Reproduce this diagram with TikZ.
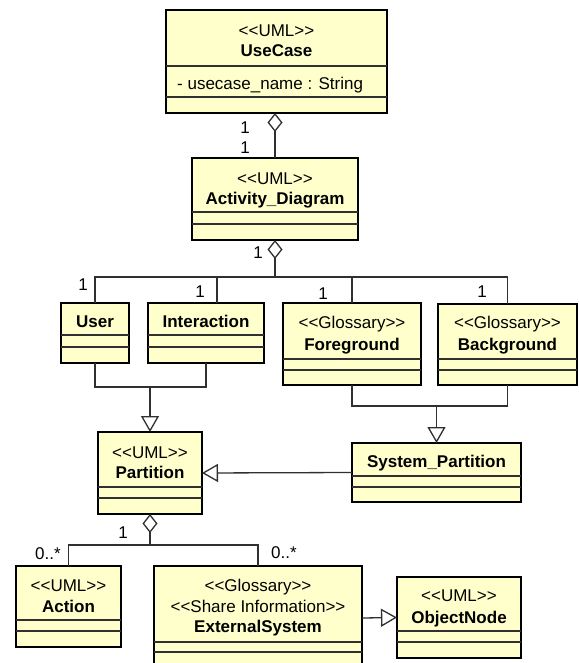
\documentclass[tikz,border=0pt]{standalone}
\usepackage{fontspec}
\setmainfont{Liberation Sans}
\usetikzlibrary{arrows.meta}

\definecolor{umlfill}{HTML}{FFFFCC}
\definecolor{umlline}{HTML}{303030}

% stereotype guillemets, kept as plain angle brackets
\newcommand\stereo[1]{<\kern0pt<#1>\kern0pt>}
% compartment separator #2 pt below the top edge of class #1
\newcommand\compsep[2]{\draw[sepline] ([yshift=-#2pt]#1.north west) -- ([yshift=-#2pt]#1.north east);}

\tikzset{
  classbox/.style={draw=black, line width=2.6pt, fill=umlfill, anchor=north west,
                   inner sep=0pt, outer sep=0pt},
  sepline/.style={draw=umlline, line width=1.4pt},
  conn/.style={draw=umlline, line width=1.3pt},
  lbl/.style={inner sep=0pt, font=\fontsize{17}{20}\selectfont, text height=12.2pt, text depth=0pt},
  ttl/.style={lbl, font=\fontsize{17}{20}\selectfont\bfseries},
  aggr/.style={conn, -{Diamond[open, length=19pt, width=15pt]}},
  gen/.style={conn, -{Triangle[open, length=16pt, width=18pt]}},
}

\begin{document}
\begin{tikzpicture}[x=1pt, y=-1pt]
\useasboundingbox (0,0) rectangle (578,663);
\fill[white] (0,0) rectangle (578,663);
\clip (0,0) rectangle (578,663);

% ---- classes ----
\node[classbox, minimum width=221pt, minimum height=103pt] (usecase) at (166,10) {};
\compsep{usecase}{56}\compsep{usecase}{87}
\node[lbl] (usecase-st) at (276.5,30) {\stereo{UML}};
\node[ttl] (usecase-nm) at (276.5,50) {UseCase};
\node[lbl, anchor=west] (usecase-at) at (177,83) {- usecase\_name : String};

\node[classbox, minimum width=166pt, minimum height=82pt] (actdiag) at (192,158) {};
\compsep{actdiag}{54}\compsep{actdiag}{66}
\node[lbl] (actdiag-st) at (275,178) {\stereo{UML}};
\node[ttl] (actdiag-nm) at (275,198) {Activity\_Diagram};

\node[classbox, minimum width=68pt, minimum height=60pt] (user) at (61,303) {};
\compsep{user}{32}\compsep{user}{44}
\node[ttl] (user-nm) at (95,321) {User};

\node[classbox, minimum width=116pt, minimum height=60pt] (interaction) at (148,303) {};
\compsep{interaction}{32}\compsep{interaction}{44}
\node[ttl] (interaction-nm) at (206,321) {Interaction};

\node[classbox, minimum width=138pt, minimum height=82pt] (fg) at (283,303) {};
\compsep{fg}{56}\compsep{fg}{67}
\node[lbl] (fg-st) at (352,322.5) {\stereo{Glossary}};
\node[ttl] (fg-nm) at (352,344) {Foreground};

\node[classbox, minimum width=139pt, minimum height=81pt] (bg) at (438,304) {};
\compsep{bg}{55}\compsep{bg}{66}
\node[lbl] (bg-st) at (507.5,322.5) {\stereo{Glossary}};
\node[ttl] (bg-nm) at (507.5,344) {Background};

\node[classbox, minimum width=104pt, minimum height=82pt] (partition) at (98,432) {};
\compsep{partition}{55}\compsep{partition}{66}
\node[lbl] (partition-st) at (150,452) {\stereo{UML}};
\node[ttl] (partition-nm) at (150,472.5) {Partition};

\node[classbox, minimum width=169pt, minimum height=59pt] (syspart) at (352,443) {};
\compsep{syspart}{33}\compsep{syspart}{44}
\node[ttl] (syspart-nm) at (436.5,461) {System\_Partition};

\node[classbox, minimum width=105pt, minimum height=81pt] (action) at (16,566) {};
\compsep{action}{54}\compsep{action}{65}
\node[lbl] (action-st) at (68.5,585) {\stereo{UML}};
\node[ttl] (action-nm) at (68.5,606) {Action};

\node[classbox, minimum width=208pt, minimum height=104pt] (extsys) at (154,566) {};
\compsep{extsys}{76}\compsep{extsys}{86}
\node[lbl] (extsys-st1) at (258,585.5) {\stereo{Glossary}};
\node[lbl] (extsys-st2) at (258,606) {\stereo{Share Information}};
\node[ttl] (extsys-nm) at (258,626.5) {ExternalSystem};

\node[classbox, minimum width=124pt, minimum height=81pt] (objnode) at (397,577) {};
\compsep{objnode}{54}\compsep{objnode}{65}
\node[lbl] (objnode-st) at (459,595) {\stereo{UML}};
\node[ttl] (objnode-nm) at (459,617) {ObjectNode};

% ---- junction points ----
\coordinate (adbus) at (275,277);
\coordinate (upjoin) at (150,387);
\coordinate (fbjoin) at (436.5,406);
\coordinate (pabus) at (150,545);

% ---- UseCase aggregates Activity_Diagram ----
\draw[aggr] (actdiag.north) -- (actdiag.north |- usecase.south);
\node[lbl] (m1) at (245,127) {1};
\node[lbl] (m2) at (245,147) {1};

% ---- Activity_Diagram aggregates its parts ----
\draw[aggr] (adbus) -- (actdiag.south);
\draw[conn] (user.north) |- (adbus);
\draw[conn] ([xshift=11pt]interaction.north) |- (adbus);
\draw[conn] (fg.north) |- (adbus);
\draw[conn] (bg.north) |- (adbus);
\node[lbl] (m3) at (258,252.5) {1};
\node[lbl] (m4) at (83,284) {1};
\node[lbl] (m5) at (200,291) {1};
\node[lbl] (m6) at (323,293) {1};
\node[lbl] (m7) at (482,291) {1};

% ---- generalisations ----
\draw[conn] (user.south) |- (upjoin);
\draw[conn] (interaction.south) |- (upjoin);
\draw[gen] (upjoin) -- (partition.north);

\draw[conn] (fg.south) |- (fbjoin);
\draw[conn] (bg.south) |- (fbjoin);
\draw[gen] (fbjoin) -- (syspart.north);

\draw[gen] (syspart.west) -- (partition.east);
\draw[gen] (extsys.east) -- (objnode.west);

% ---- Partition aggregates Action and ExternalSystem ----
\draw[aggr] (pabus) -- (partition.south);
\draw[conn] (action.north) |- (pabus);
\draw[conn] (extsys.north) |- (pabus);
\node[lbl] (m8) at (123,532) {1};
\node[lbl] (m9) at (48,553) {0..*};
\node[lbl] (m10) at (284,552) {0..*};
\end{tikzpicture}
\end{document}
